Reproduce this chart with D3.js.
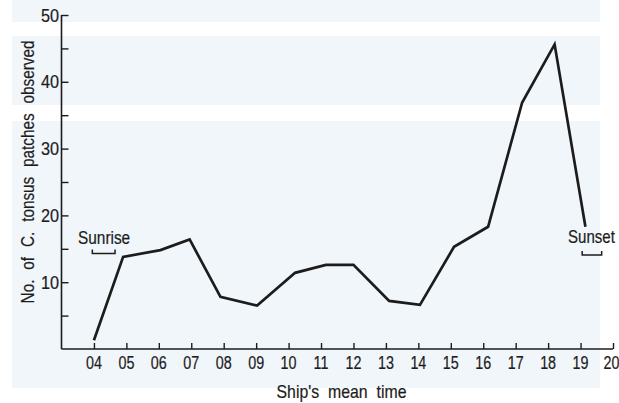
<!DOCTYPE html>
<html><head><meta charset="utf-8">
<script src="https://cdn.jsdelivr.net/npm/d3@7"></script>
<style>html,body{margin:0;padding:0;background:#fff;}svg{display:block;}</style>
</head><body>
<svg id="chart" width="619" height="403"></svg>
<script>
// Data
const hours = [4.0, 4.9, 6.05, 6.95, 7.9, 9.03, 10.2, 11.15, 12.0, 13.1, 14.05, 15.1, 16.15, 17.2, 18.2, 19.15];
const patches = [1.3, 13.8, 14.8, 16.4, 7.8, 6.5, 11.4, 12.6, 12.6, 7.2, 6.6, 15.3, 18.3, 36.9, 45.6, 18.3];
const xTicks = [4,5,6,7,8,9,10,11,12,13,14,15,16,17,18,19,20];
const xTickLabels = ["04","05","06","07","08","09","10","11","12","13","14","15","16","17","18","19","20"];
const yMajor = [10,20,30,40,50];
const yMinor = [5,15,25,35,45];
const sunrise = [3.95, 4.65];
const sunset = [19.05, 19.65];

const svg = d3.select("#chart");
const font = "'Liberation Sans',Arial,sans-serif";
const ink = "#1c1c1c";

// faint watermark-like background bands
const bg = svg.append("g");
bg.append("rect").attr("x",12).attr("y",0).attr("width",588).attr("height",388).attr("fill","#f1f6fa");
bg.append("rect").attr("x",0).attr("y",22).attr("width",619).attr("height",14).attr("fill","#fff");
bg.append("rect").attr("x",0).attr("y",105).attr("width",619).attr("height",16).attr("fill","#fff");

const x = d3.scaleLinear().domain([3,20]).range([61.5,613]);
const y = d3.scaleLinear().domain([0,50]).range([349,15]);

// condensed text helper: squeezes horizontally (sx) and optionally widens word gaps to hit a target width
function ctext(g, tx, ty, str, opts){
  opts = opts || {};
  const sx = opts.sx || 0.8;
  const t = g.append("text")
    .attr("text-anchor",opts.anchor||"start")
    .attr("font-family",font).attr("font-size",opts.size||16).attr("fill",ink)
    .attr("stroke",ink).attr("stroke-width",0.2)
    .text(str);
  if (opts.target) {
    const w = t.node().getComputedTextLength();
    const gaps = str.split(" ").length - 1;
    if (gaps > 0) {
      const extra = opts.target / sx - w;
      t.attr("word-spacing", Math.max(0, extra / gaps));
    }
  }
  t.attr("transform",`translate(${tx},${ty})${opts.rot?` rotate(${opts.rot})`:""} scale(${sx},1)`);
  return t;
}

// axes lines
svg.append("line").attr("x1",x(3)).attr("x2",x(3)).attr("y1",y(50)).attr("y2",y(0)).attr("stroke",ink).attr("stroke-width",1.6);
svg.append("line").attr("x1",x(3)).attr("x2",x(20)).attr("y1",y(0)).attr("y2",y(0)).attr("stroke",ink).attr("stroke-width",1.6);

// y ticks (inward)
const yAxis = d3.axisRight(y).tickValues(yMajor.concat(yMinor)).tickSize(7).tickFormat("");
const yg = svg.append("g").attr("transform",`translate(${x(3)},0)`).call(yAxis);
yg.select(".domain").remove();
yg.selectAll("line").attr("stroke",ink).attr("stroke-width",1.4);
const ylab = svg.append("g");
yMajor.forEach(d => ctext(ylab, 59, y(d)+6.5, String(d), {anchor:"end", size:17.5, sx:0.93}));

// x ticks (inward)
const xAxis = d3.axisTop(x).tickValues(xTicks).tickSize(6).tickFormat("");
const xg = svg.append("g").attr("transform",`translate(0,${y(0)})`).call(xAxis);
xg.select(".domain").remove();
xg.selectAll("line").attr("stroke",ink).attr("stroke-width",1.4);
const xlab = svg.append("g");
xTicks.forEach((d,i) => ctext(xlab, Math.min(x(d), 611.5), 369, xTickLabels[i], {anchor:"middle", size:17.5, sx:0.82}));

// axis titles
ctext(svg, 341.5, 398, "Ship's mean time", {anchor:"middle", size:18, sx:0.88, target:130});
ctext(svg, 34, 172, "No. of C. tonsus patches observed", {anchor:"middle", size:18, sx:0.85, rot:-90, target:263});

// data line
const line = d3.line().x((d,i)=>x(hours[i])).y(d=>y(d));
svg.append("path").datum(patches).attr("d",line).attr("fill","none")
  .attr("stroke",ink).attr("stroke-width",2.7).attr("stroke-linejoin","miter");

// sunrise / sunset annotations
function bracket(r, yy){
  const p = d3.path();
  p.moveTo(x(r[0]), yy-4); p.lineTo(x(r[0]), yy); p.lineTo(x(r[1]), yy); p.lineTo(x(r[1]), yy-4);
  svg.append("path").attr("d",p.toString()).attr("fill","none").attr("stroke",ink).attr("stroke-width",1.5);
}
bracket(sunrise, 253.5);
bracket(sunset, 255);
ctext(svg, 78, 244, "Sunrise", {size:17.5, sx:0.88});
ctext(svg, 568, 243, "Sunset", {size:17.5, sx:0.86});
</script>
</body></html>
